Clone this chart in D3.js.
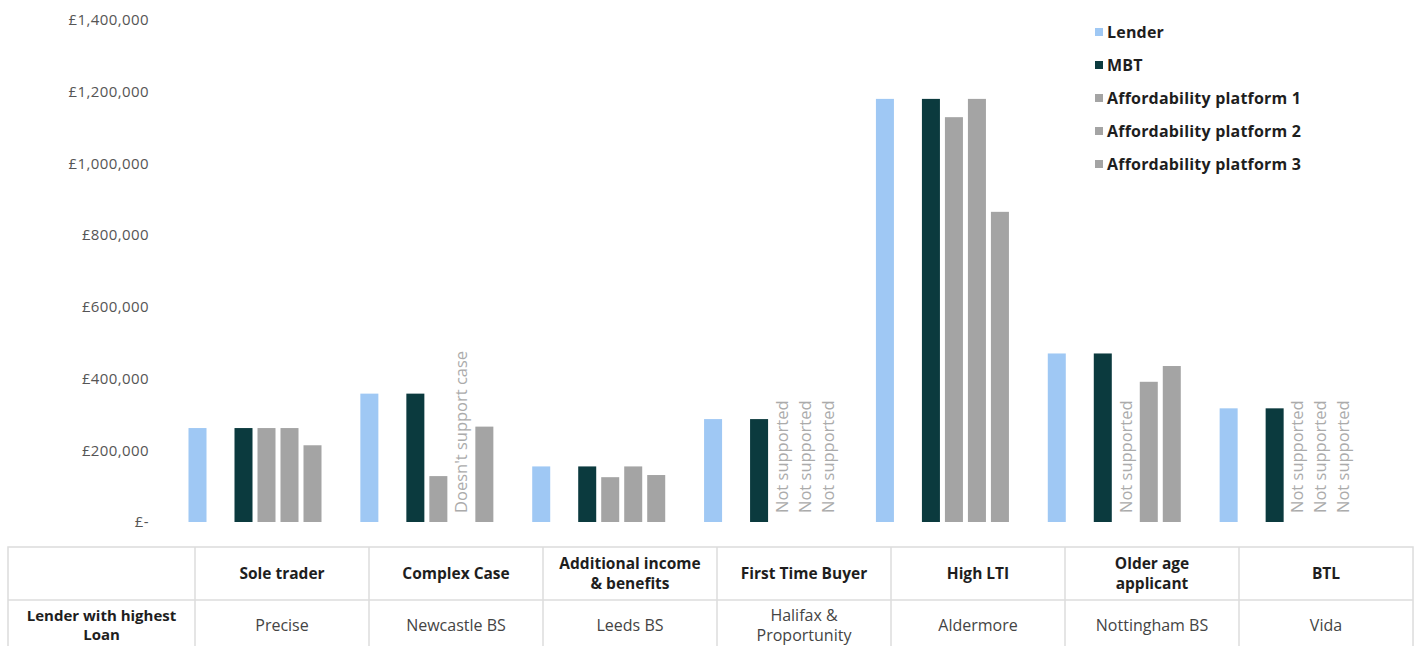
<!DOCTYPE html>
<html>
<head>
<meta charset="utf-8">
<script src="https://cdn.jsdelivr.net/npm/d3@7"></script>
<style>
  html, body { margin: 0; padding: 0; background: #fff; }
  svg { display: block; font-family: "Open Sans", Lato, sans-serif; }
</style>
</head>
<body>
<svg id="chart" width="1418" height="646"></svg>
<script>
// Loan amounts by case type and source
const categories = ["Sole trader", "Complex Case", "Additional income & benefits", "First Time Buyer", "High LTI", "Older age applicant", "BTL"];
const categoryLines = [["Sole trader"], ["Complex Case"], ["Additional income", "& benefits"], ["First Time Buyer"], ["High LTI"], ["Older age", "applicant"], ["BTL"]];
const lenderNames = [["Precise"], ["Newcastle BS"], ["Leeds BS"], ["Halifax &", "Proportunity"], ["Aldermore"], ["Nottingham BS"], ["Vida"]];
const rowLabel = ["Lender with highest", "Loan"];

const seriesNames = ["Lender", "MBT", "Affordability platform 1", "Affordability platform 2", "Affordability platform 3"];
const lenderValues = [262000, 358000, 155000, 287000, 1180000, 470000, 317000];
const mbtValues    = [262000, 358000, 155000, 287000, 1180000, 470000, 317000];
const ap1Values    = [262000, 128000, 125000, null, 1129000, null, null];
const ap2Values    = [262000, null, 155000, null, 1180000, 391000, null];
const ap3Values    = [214000, 266000, 131000, null, 865000, 435000, null];
const ap1Notes = [null, null, null, "Not supported", null, "Not supported", "Not supported"];
const ap2Notes = [null, "Doesn't support case", null, "Not supported", null, null, "Not supported"];
const ap3Notes = [null, null, null, "Not supported", null, null, "Not supported"];
const yTicks = [0, 200000, 400000, 600000, 800000, 1000000, 1200000, 1400000];

const seriesValues = [lenderValues, mbtValues, ap1Values, ap2Values, ap3Values];
const seriesNotes = [null, null, ap1Notes, ap2Notes, ap3Notes];
const colors = ["#9fc8f4", "#0b3a3e", "#a4a4a4", "#a4a4a4", "#a4a4a4"];

const svg = d3.select("#chart");

// scales
const y = d3.scaleLinear().domain([0, 1400000]).range([522, 20]);
const x = d3.scaleBand().domain(categories).range([169, 1372]).paddingInner(0).paddingOuter(0);
// a spacer slot sits between the lender bar and the MBT bar
const slots = ["Lender", "spacer", "MBT", "Affordability platform 1", "Affordability platform 2", "Affordability platform 3"];
const xs = d3.scaleBand().domain(slots).range([17, 155]).paddingInner(0.217).paddingOuter(0.1085);

// y axis
const yAxis = d3.axisLeft(y)
  .tickValues(yTicks)
  .tickSize(0)
  .tickPadding(0)
  .tickFormat(d => d === 0 ? "£-" : "£" + d3.format(",")(d));
const gy = svg.append("g").attr("transform", "translate(149,0)").call(yAxis);
gy.select(".domain").remove();
gy.selectAll("text")
  .attr("fill", "#555")
  .style("font-family", "'Open Sans', sans-serif")
  .style("font-size", "15px")
  .style("letter-spacing", "0.4px");

// bars
const bars = [];
seriesNames.forEach((name, si) => {
  categories.forEach((cat, ci) => {
    bars.push({ name, si, cat, value: seriesValues[si][ci], note: seriesNotes[si] ? seriesNotes[si][ci] : null });
  });
});

const g = svg.append("g");
g.selectAll("rect.bar")
  .data(bars.filter(d => d.value != null))
  .join("rect")
  .attr("class", "bar")
  .attr("x", d => x(d.cat) + xs(d.name))
  .attr("y", d => y(d.value))
  .attr("width", xs.bandwidth())
  .attr("height", d => y(0) - y(d.value))
  .attr("fill", d => colors[d.si]);

// vertical notes where a platform gives no figure
g.selectAll("text.note")
  .data(bars.filter(d => d.value == null && d.note))
  .join("text")
  .attr("class", "note")
  .attr("transform", d => `translate(${x(d.cat) + xs(d.name) + xs.bandwidth() / 2},513) rotate(-90)`)
  .attr("dy", "0.35em")
  .attr("text-anchor", "start")
  .attr("fill", "#ababab")
  .style("font-family", "'Open Sans', sans-serif")
  .style("font-size", "16.5px")
  .text(d => d.note);

// legend
const legend = svg.append("g").attr("transform", "translate(1095,32)");
const li = legend.selectAll("g").data(seriesNames).join("g")
  .attr("transform", (d, i) => `translate(0,${i * 33})`);
li.append("rect").attr("x", 0).attr("y", -4).attr("width", 8).attr("height", 8)
  .attr("fill", (d, i) => colors[i]);
li.append("text").attr("x", 12).attr("dy", "0.35em")
  .attr("fill", "#1e1e1e")
  .style("font-weight", "bold")
  .style("font-size", "16px")
  .style("letter-spacing", "0.2px")
  .text(d => d);

// table beneath the chart
const table = svg.append("g");
const tLeft = 8, tRight = 1413, firstColRight = 195;
const tTop = 547, tMid = 600, tBottom = 652;
const colX = d3.scaleBand().domain(categories).range([firstColRight, tRight]);
const lineColor = "#dcdcdc";

table.append("rect").attr("x", tLeft).attr("y", tTop)
  .attr("width", tRight - tLeft).attr("height", tBottom - tTop)
  .attr("fill", "none").attr("stroke", lineColor).attr("stroke-width", 1.5);
table.append("line").attr("x1", tLeft).attr("x2", tRight).attr("y1", tMid).attr("y2", tMid)
  .attr("stroke", lineColor).attr("stroke-width", 1.5);
table.selectAll("line.col").data(categories).join("line").attr("class", "col")
  .attr("x1", d => colX(d)).attr("x2", d => colX(d))
  .attr("y1", tTop).attr("y2", tBottom)
  .attr("stroke", lineColor).attr("stroke-width", 1.5);

function multiline(sel, lines, cx, cy, lh) {
  const n = lines.length;
  lines.forEach((t, i) => {
    sel.append("text")
      .attr("x", cx)
      .attr("y", cy + (i - (n - 1) / 2) * lh)
      .attr("dy", "0.35em")
      .attr("text-anchor", "middle")
      .text(t);
  });
}

const head = table.append("g").attr("fill", "#1e1e1e").style("font-weight", "bold").style("font-size", "15.5px");
categories.forEach((c, i) => {
  multiline(head, categoryLines[i], colX(c) + colX.bandwidth() / 2, 574, 20);
});

const rowHead = table.append("g").attr("fill", "#1e1e1e").style("font-weight", "bold").style("font-size", "15px");
multiline(rowHead, rowLabel, (tLeft + firstColRight) / 2, 625, 19);

const rowVals = table.append("g").attr("fill", "#444").style("font-size", "16px");
categories.forEach((c, i) => {
  multiline(rowVals, lenderNames[i], colX(c) + colX.bandwidth() / 2, 625, 20);
});
</script>
</body>
</html>
